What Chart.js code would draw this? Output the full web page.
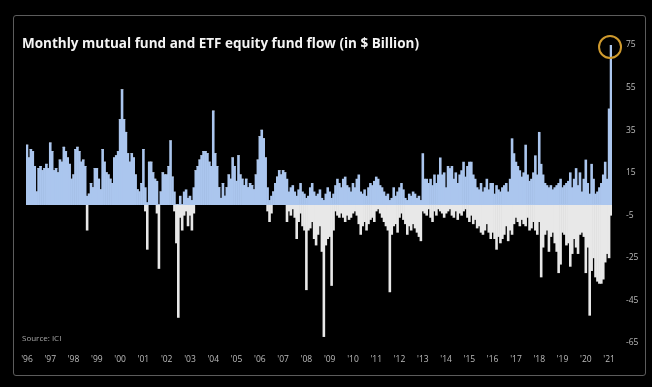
<!DOCTYPE html>
<html lang="en">
<head>
<meta charset="UTF-8">
<title>Monthly mutual fund and ETF equity fund flow</title>
<script src="https://cdn.jsdelivr.net/npm/chart.js"></script>
<style>
    html, body { margin: 0; padding: 0; background: #000; }
    .wrap { position: relative; width: 652px; height: 387px; overflow: hidden; background: #000; }
    .frame { position: absolute; left: 13px; top: 15px; width: 631px; height: 359px; border: 1px solid #5c5c5c; border-radius: 3px; }
    .title { position: absolute; left: 22px; top: 34px; color: #f4f4f4; font: bold 13.5px "Open Sans", sans-serif; white-space: nowrap; }
    .source { position: absolute; left: 22px; top: 332px; color: #a8a8a8; font: 8px "Open Sans", sans-serif; }
    canvas { position: absolute; left: 0; top: 0; }
</style>
</head>
<body>
<div class="wrap">
    <div class="frame"></div>
    <canvas id="flows" width="652" height="387"></canvas>
    <div class="title">Monthly mutual fund and ETF equity fund flow (in $ Billion)</div>
    <div class="source">Source: ICI</div>
</div>
<script>
    // year tick labels, one per January
    const yearLabels = ["'96", "'97", "'98", "'99", "'00", "'01", "'02", "'03", "'04", "'05", "'06", "'07", "'08",
                        "'09", "'10", "'11", "'12", "'13", "'14", "'15", "'16", "'17", "'18", "'19", "'20", "'21"];
    const yTicks = [75, 55, 35, 15, -5, -25, -45, -65];

    // monthly inflows, Jan 1996 .. Feb 2021 ($ billion)
    const inflows = [
        28, 22, 26, 25, 18, 6, 17, 18, 16, 17, 19, 17,      // 1996
        29, 25, 16, 17, 15, 21, 20, 27, 25, 22, 19, 12,     // 1997
        14, 26, 27, 25, 20, 21, 18, 4, 5, 10, 8, 17,        // 1998
        17, 12, 7, 26, 20, 15, 14, 12, 10, 22, 23, 25,      // 1999
        40, 54, 40, 34, 24, 20, 24, 22, 14, 7, 6, 10,       // 2000
        26, 8, 1, 20, 20, 15, 12, 11, 0, 6, 15, 14,         // 2001
        14, 18, 30, 13, 6, 0, 0, 4, 0, 6, 7, 3,             // 2002
        4, 2, 8, 16, 18, 21, 23, 25, 25, 24, 20, 18,        // 2003
        44, 24, 18, 8, 3, 10, 4, 8, 14, 12, 22, 18,         // 2004
        11, 23, 14, 12, 9, 12, 8, 10, 9, 7, 14, 21,         // 2005
        32, 35, 31, 22, 8, 2, 4, 6, 10, 13, 16, 14,         // 2006
        16, 15, 12, 6, 8, 9, 6, 4, 7, 10, 6, 5,             // 2007
        3, 4, 8, 10, 6, 4, 5, 7, 3, 2, 5, 8,                // 2008
        6, 3, 5, 9, 12, 10, 8, 12, 13, 9, 8, 6,             // 2009
        10, 8, 12, 14, 6, 5, 7, 4, 8, 10, 9, 11,            // 2010
        13, 12, 9, 8, 6, 4, 5, 2, 3, 8, 4, 6,               // 2011
        8, 10, 7, 3, 2, 5, 4, 6, 5, 3, 4, 2,                // 2012
        24, 12, 12, 10, 12, 9, 14, 10, 14, 22, 14, 15,      // 2013
        8, 18, 17, 18, 12, 15, 10, 14, 16, 20, 13, 18,      // 2014
        20, 20, 14, 12, 8, 7, 10, 6, 8, 12, 7, 10,          // 2015
        10, 5, 9, 7, 6, 8, 9, 10, 6, 12, 31, 24,            // 2016
        20, 18, 16, 13, 15, 28, 14, 11, 12, 15, 23, 14,     // 2017
        34, 19, 14, 10, 9, 8, 9, 7, 8, 9, 10, 12,           // 2018
        8, 9, 10, 11, 15, 8, 12, 17, 9, 15, 6, 12,          // 2019
        21, 10, 5, 19, 12, 5, 6, 8, 10, 14, 20, 12,         // 2020
        45, 75                                              // 2021
    ];

    // monthly outflows, same months
    const outflows = [
        0, 0, 0, 0, 0, 0, 0, 0, 0, 0, 0, 0,
        0, 0, 0, 0, 0, 0, 0, 0, 0, 0, 0, 0,
        0, 0, 0, 0, 0, 0, 0, -12, 0, 0, 0, 0,
        0, 0, 0, 0, 0, 0, 0, 0, 0, 0, 0, 0,
        0, 0, 0, 0, 0, 0, 0, 0, 0, 0, 0, 0,
        0, -3, -21, 0, 0, 0, 0, -4, -30, 0, 0, 0,
        0, 0, 0, 0, -3, -18, -53, -6, -12, -5, -3, -10,
        -5, -12, -4, 0, 0, 0, 0, 0, 0, 0, 0, 0,
        0, 0, 0, 0, 0, 0, 0, 0, 0, 0, 0, 0,
        0, 0, 0, 0, 0, 0, 0, 0, 0, 0, 0, 0,
        0, 0, 0, 0, -3, -8, -4, 0, 0, 0, 0, 0,
        0, 0, -8, -3, -5, -2, -6, -16, -8, -4, -10, -12,
        -40, -12, -11, -8, -16, -19, -14, -10, -22, -62, -19, -16,
        -15, -38, -12, -3, -5, -6, -4, -6, -8, -5, -7, -6,
        -4, -3, -5, -9, -14, -10, -8, -12, -9, -7, -6, -8,
        -3, -2, -4, -6, -8, -10, -12, -41, -14, -10, -9, -13,
        -6, -4, -7, -9, -14, -10, -12, -9, -11, -13, -15, -17,
        -3, -4, -5, -2, -6, -8, -3, -5, -2, -3, -4, -6,
        -4, -3, -2, -5, -6, -3, -7, -4, -5, -3, -2, -6,
        -8, -5, -9, -7, -11, -10, -13, -14, -12, -9, -13, -16,
        -13, -16, -21, -15, -18, -16, -14, -10, -17, -12, -14, -9,
        -6, -8, -10, -7, -9, -10, -6, -12, -11, -8, -12, -14,
        -8, -34, -20, -14, -12, -22, -15, -13, -18, -22, -32, -28,
        -13, -14, -19, -18, -29, -23, -16, -20, -23, -14, -13, -15,
        -32, -20, -52, -31, -25, -34, -36, -37, -37, -35, -27, -23,
        -25, -5
    ];

    const months = inflows.map((_, i) => (1996 + Math.floor(i / 12)) + '-' + String(i % 12 + 1).padStart(2, '0'));

    // gold ring round the latest month
    const ringPlugin = {
        id: 'ring',
        afterDatasetsDraw(chart) {
            const last = inflows.length - 1;
            const x = chart.scales.x.getPixelForValue(last);
            const y = chart.scales.y.getPixelForValue(inflows[last]);
            const ctx = chart.ctx;
            ctx.save();
            ctx.beginPath();
            ctx.arc(x - 1, y + 2, 11, 0, Math.PI * 2);
            ctx.strokeStyle = '#cf9a2e';
            ctx.lineWidth = 2;
            ctx.stroke();
            ctx.restore();
        }
    };

    const ctx = document.getElementById('flows').getContext('2d');
    new Chart(ctx, {
        type: 'bar',
        data: {
            labels: months,
            datasets: [{
                label: 'Inflow',
                data: inflows,
                backgroundColor: '#abc6ee',
                categoryPercentage: 1,
                barPercentage: 1
            }, {
                label: 'Outflow',
                data: outflows,
                backgroundColor: '#e8e8e8',
                categoryPercentage: 1,
                barPercentage: 1
            }]
        },
        options: {
            responsive: false,
            animation: false,
            layout: { padding: { left: 26, right: 10, top: 45, bottom: 14 } },
            plugins: {
                legend: { display: false },
                tooltip: { enabled: false }
            },
            scales: {
                x: {
                    stacked: true,
                    grid: { display: false },
                    border: { display: false },
                    afterFit: scale => { scale.height = 30; },
                    ticks: {
                        autoSkip: false,
                        maxRotation: 0,
                        padding: 3,
                        color: '#bcbcbc',
                        font: { family: 'Open Sans', size: 8.5 },
                        callback: (value, index) => index % 12 === 0 ? yearLabels[index / 12] : ''
                    }
                },
                y: {
                    stacked: true,
                    position: 'right',
                    min: -65,
                    max: 75,
                    grid: { display: false },
                    border: { display: false },
                    afterFit: scale => { scale.width = 30; },
                    afterBuildTicks: scale => { scale.ticks = yTicks.map(v => ({ value: v })); },
                    ticks: {
                        padding: 6,
                        color: '#bcbcbc',
                        font: { family: 'Open Sans', size: 8.5 }
                    }
                }
            }
        },
        plugins: [ringPlugin]
    });
</script>
</body>
</html>
